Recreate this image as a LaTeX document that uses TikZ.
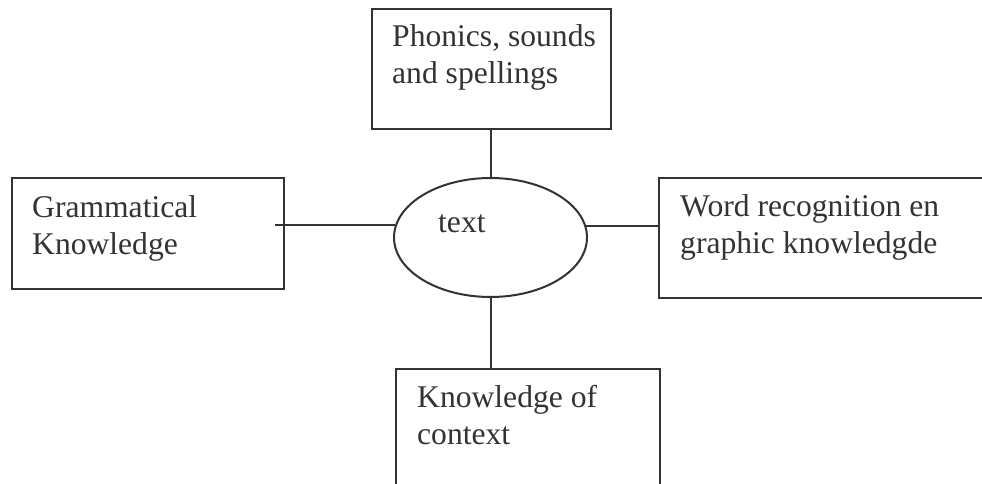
\documentclass[tikz,border=0pt]{standalone}
\usepackage{fontspec}
\setmainfont{Liberation Serif}
\usetikzlibrary{shapes.geometric}
\definecolor{ink}{HTML}{333333}
\tikzset{
  box/.style={draw=ink, line width=2pt, rectangle, inner sep=0pt, anchor=north west},
  oval/.style={draw=ink, line width=2pt, ellipse, inner sep=0pt},
  lbl/.style={inner sep=0pt, anchor=base west, align=left, text=ink, font=\fontsize{31.6}{37}\selectfont},
  conn/.style={draw=ink, line width=2pt}
}
\begin{document}
\begin{tikzpicture}[x=1pt, y=-1pt]
\useasboundingbox (0,0) rectangle (982,484);
\clip (0,0) rectangle (982,484);
\fill[white] (0,0) rectangle (982,484);
% boxes
\node[box, minimum width=239pt, minimum height=120pt] (top) at (371,8) {};
\node[box, minimum width=272pt, minimum height=111pt] (left) at (11,177) {};
\node[box, minimum width=350pt, minimum height=120pt] (right) at (658,177) {};
\node[box, minimum width=264pt, minimum height=140pt] (bottom) at (395,368) {};
\node[oval, minimum width=193pt, minimum height=119pt] (ell) at (490.5,237.5) {};
% texts (anchored at the baseline of the last line)
\node[lbl] (ttop) at (392,84) {Phonics, sounds\\and spellings};
\node[lbl] (tleft) at (32,254) {Grammatical\\Knowledge};
\node[lbl] (tright) at (680,253) {Word recognition en\\graphic knowledgde};
\node[lbl] (tbottom) at (417,444) {Knowledge of\\context};
\node[lbl] (tell) at (438,232) {text};
% connectors
\coordinate (lstart) at (275,225);
\draw[conn] (top.south -| ell.north) -- (ell.north);
\draw[conn] (lstart) -- (lstart -| ell.172.8);
\draw[conn] (ell.7.2) -- (ell.7.2 -| right.west);
\draw[conn] (ell.south) -- (ell.south |- bottom.north);
\end{tikzpicture}
\end{document}
